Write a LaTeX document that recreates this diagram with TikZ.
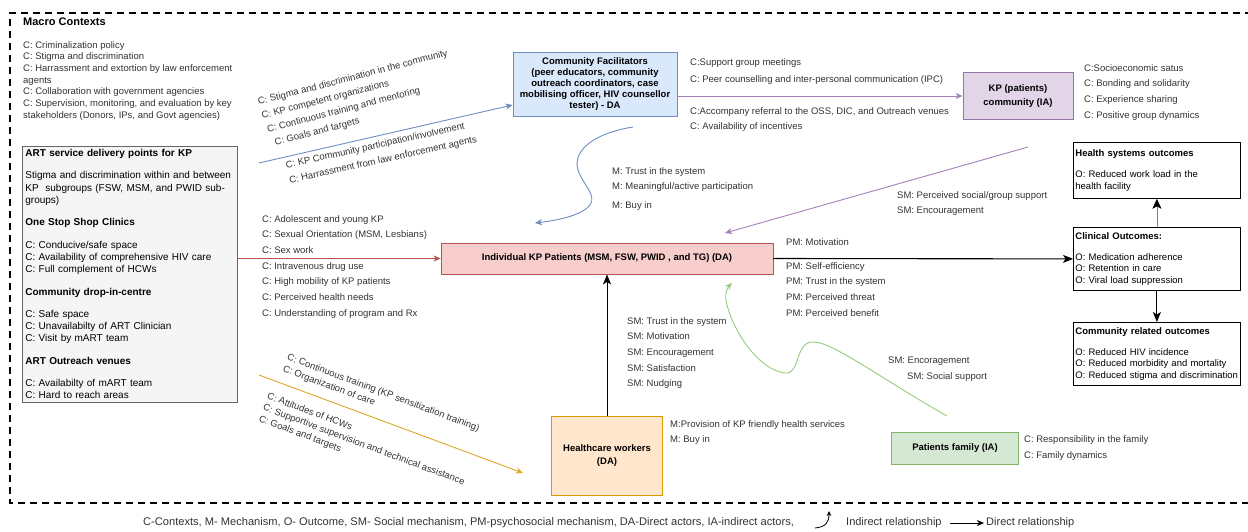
\documentclass[tikz,border=0pt]{standalone}
\usepackage{fontspec}
\setmainfont{Liberation Sans}
\usetikzlibrary{arrows.meta,positioning,calc}

\definecolor{cfblue}{HTML}{DAE8FC}
\definecolor{cfbluedk}{HTML}{6C8EBF}
\definecolor{kpviolet}{HTML}{E1D5E7}
\definecolor{kpvioletdk}{HTML}{9673A6}
\definecolor{kpvioletln}{HTML}{A680B8}
\definecolor{indred}{HTML}{F8CECC}
\definecolor{indreddk}{HTML}{B85450}
\definecolor{hcworange}{HTML}{FFE6CC}
\definecolor{hcworangedk}{HTML}{D79B00}
\definecolor{hcworangeln}{HTML}{E0A526}
\definecolor{famgreen}{HTML}{D5E8D4}
\definecolor{famgreendk}{HTML}{82B366}
\definecolor{famgreenln}{HTML}{97CB7A}
\definecolor{artgray}{HTML}{F5F5F5}
\definecolor{artgraydk}{HTML}{666666}
\definecolor{lbltext}{HTML}{333333}

\tikzset{
	actor/.style={draw, line width=0.8pt, align=center, inner sep=2pt, text=black, font=\bfseries\fontsize{9.5}{11.2}\selectfont},
	outbox/.style={draw, line width=0.8pt, fill=white, anchor=north west, align=left, text width=163pt, minimum width=167pt, inner sep=2pt, font=\fontsize{9.5}{11.7}\selectfont},
	lbl/.style={anchor=north west, align=left, inner sep=0pt, text=lbltext, font=\fontsize{9.5}{15.7}\selectfont},
	conn/.style={line width=0.9pt, -{Stealth[length=7pt,width=6pt,inset=2pt]}},
	direct/.style={line width=1.1pt, -{Stealth[length=10pt,width=8pt,inset=2.5pt]}},
	outerframe/.style={line width=2pt, dash pattern=on 7pt off 5pt}
}

\begin{document}
\begin{tikzpicture}[x=1pt,y=-1pt]
	\useasboundingbox (0,0) rectangle (1248,531);

	% dashed frame of the macro context
	\draw[outerframe] (1252,13) -| (10,503) -- (1252,503);

	\node[lbl, anchor=west, text=black, font=\bfseries\fontsize{11}{13}\selectfont] (macrotitle) at (23,22) {Macro Contexts};
	\node[lbl, font=\fontsize{9.5}{11.7}\selectfont] (macro) at (23,41) {C: Criminalization policy\\C: Stigma and discrimination\\C: Harrassment and extortion by law enforcement\\agents\\C: Collaboration with government agencies\\C: Supervision, monitoring, and evaluation by key\\stakeholders (Donors, IPs, and Govt agencies)};

	% service delivery points
	\node[draw=artgraydk, fill=artgray, line width=0.8pt, anchor=north west, align=left, text width=209pt, minimum height=255pt, inner sep=3pt, font=\fontsize{10}{12.3}\selectfont] (art) at (22,146) {\textbf{ART service delivery points for KP}\\[10pt]
		Stigma and discrimination within and between\\KP\ \ subgroups (FSW, MSM, and PWID sub-\\groups)\\[10pt]
		\textbf{One Stop Shop Clinics}\\[10pt]
		C: Conducive/safe space\\C: Availability of comprehensive HIV care\\C: Full complement of HCWs\\[10pt]
		\textbf{Community drop-in-centre}\\[10pt]
		C: Safe space\\C: Unavailabilty of ART Clinician\\C: Visit by mART team\\[10pt]
		\textbf{ART Outreach venues}\\[10pt]
		C: Availabilty of mART team\\C: Hard to reach areas};

	% actors
	\node[actor, fill=cfblue, draw=cfbluedk, minimum width=164pt, minimum height=64pt] (cf) at (595,84) {Community Facilitators\\(peer educators, community\\outreach coordinators, case\\mobilising officer, HIV counsellor\\tester) - DA};
	\node[actor, fill=kpviolet, draw=kpvioletdk, minimum width=110pt, minimum height=47pt, font=\bfseries\fontsize{9.5}{14}\selectfont] (kpc) at (1018,96) {KP (patients)\\community (IA)};
	\node[actor, fill=indred, draw=indreddk, minimum width=332pt, minimum height=31pt] (ind) at (607,258.5) {Individual KP Patients (MSM, FSW, PWID , and TG) (DA)};
	\node[actor, fill=hcworange, draw=hcworangedk, minimum width=111pt, minimum height=79pt, font=\bfseries\fontsize{9.5}{13}\selectfont] (hcw) at (607,455.5) {Healthcare workers\\(DA)};
	\node[actor, fill=famgreen, draw=famgreendk, minimum width=127pt, minimum height=32pt] (fam) at (955,448) {Patients family (IA)};

	% outcomes
	\node[outbox, minimum height=56pt] (hsys) at (1073,142) {\textbf{Health systems outcomes}\\[9pt]O: Reduced work load in the\\health facility};
	\node[outbox, minimum height=63pt] (clin) at (1073,227) {\textbf{Clinical Outcomes:}\\[9pt]O: Medication adherence\\O: Retention in care\\O: Viral load suppression};
	\node[outbox, minimum height=63pt] (comm) at (1073,322) {\textbf{Community related outcomes}\\[9pt]O: Reduced HIV incidence\\O: Reduced morbidity and mortality\\O: Reduced stigma and discrimination};

	% connectors
	\coordinate (cfin) at (259,163);
	\draw[conn, cfbluedk] (cfin) -- ([yshift=-21pt]cf.west);
	\coordinate (cfout) at (633,127);
	\coordinate (cfend) at (535,223);
	\draw[conn, cfbluedk] (cfout) .. controls (595,133) and (572,150) .. (578,170) .. controls (583,185) and (597,195) .. (590,205) .. controls (582,215) and (560,220) .. (cfend);
	\draw[conn, kpvioletln] (cf.east |- kpc.west) -- (kpc.west);
	\coordinate (kpcout) at (1028,147);
	\coordinate (kpcend) at (725,233);
	\draw[conn, kpvioletln] (kpcout) -- (kpcend);
	\draw[conn, indreddk] (art.east |- ind.west) -- (ind.west);
	\draw[direct] (ind.east) -- (clin.west);
	\draw[direct, line width=0.9pt] (hcw.north) -- (ind.south);
	\coordinate (famout) at (947,416);
	\coordinate (famend) at (732,283);
	\draw[conn, famgreenln] (famout) .. controls (880,378) and (830,340) .. (812,342) .. controls (795,343) and (800,375) .. (785,373) .. controls (760,370) and (735,335) .. (727,305) .. controls (724,295) and (727,288) .. (famend);
	\coordinate (hcwin) at (259,375);
	\coordinate (hcwend) at (523,473);
	\draw[conn, hcworangeln] (hcwin) -- (hcwend);
	\draw[draw=gray, line width=0.6pt, -{Stealth[length=10pt,width=9pt,inset=2.5pt,color=black]}] (clin.north) -- (hsys.south);
	\draw[direct, line width=0.9pt] (clin.south) -- (comm.north);

	% labels
	\node[lbl, rotate=14.5, font=\fontsize{9.5}{14.5}\selectfont] (cfctx1) at (257,98) {C: Stigma and discrimination in the community\\C: KP competent organizations\\\hspace{2pt}C: Continuous training and mentoring\\\hspace{6pt}C: Goals and targets};
	\node[lbl, rotate=12.5, font=\fontsize{9.5}{15.5}\selectfont] (cfctx2) at (285,161.5) {C: KP Community participation/involvement\\C: Harrassment from law enforcement agents};
	\node[lbl] (cfc1) at (690,58) {C:Support group meetings\\[1.3pt]C: Peer counselling and inter-personal communication (IPC)};
	\node[lbl] (cfc2) at (690,107) {C:Accompany referral to the OSS, DIC, and Outreach venues\\C: Availability of incentives};
	\node[lbl] (kpcc) at (1084,64) {C:Socioeconomic satus\\C: Bonding and solidarity\\C: Experience sharing\\C: Positive group dynamics};
	\node[lbl] (kpcm) at (897,191) {SM: Perceived social/group support\\SM: Encouragement};
	\node[lbl] (cfm) at (612,167) {M: Trust in the system\\M: Meaningful/active participation\\[3pt]M: Buy in};
	\node[lbl] (indc) at (262,215) {C: Adolescent and young KP\\C: Sexual Orientation (MSM, Lesbians)\\C: Sex work\\C: Intravenous drug use\\C: High mobility of KP patients\\C: Perceived health needs\\C: Understanding of program and Rx};
	\node[lbl, anchor=west] (pm1) at (786,242) {PM: Motivation};
	\node[lbl] (pm) at (786,262) {PM: Self-efficiency\\PM: Trust in the system\\PM: Perceived threat\\PM: Perceived benefit};
	\node[lbl] (hcwsm) at (627,317) {SM: Trust in the system\\SM: Motivation\\SM: Encouragement\\SM: Satisfaction\\SM: Nudging};
	\node[lbl] (hcwm) at (670,420) {M:Provision of KP friendly health services\\M: Buy in};
	\node[lbl, rotate=-20.5, font=\fontsize{9.5}{12.5}\selectfont] (hcwctx1) at (289,353) {C: Continuous training (KP sensitization training)\\C: Organization of care};
	\node[lbl, rotate=-20.5, font=\fontsize{9.5}{12}\selectfont] (hcwctx2) at (269,392) {C: Attitudes of HCWs\\C: Supportive supervision and technical assistance\\C: Goals and targets};
	\node[lbl, anchor=west] (famsm1) at (888,361) {SM: Encoragement};
	\node[lbl, anchor=west] (famsm2) at (907,377) {SM: Social support};
	\node[lbl] (famc) at (1024,435) {C: Responsibility in the family\\[1pt]C: Family dynamics};

	% legend
	\node[lbl, anchor=west, font=\fontsize{11.1}{13}\selectfont] (legtxt) at (143,523) {C-Contexts, M- Mechanism, O- Outcome, SM- Social mechanism, PM-psychosocial mechanism, DA-Direct actors, IA-indirect actors,};
	\coordinate (indleg0) at (815,528);
	\coordinate (indleg1) at (829,511);
	\draw[line width=0.8pt, -{Stealth[length=5pt,width=4.5pt]}] (indleg0) .. controls (826,527) and (829,522) .. (indleg1);
	\node[lbl, anchor=west, font=\fontsize{11}{13}\selectfont] (legind) at (846,523) {Indirect relationship};
	\node[lbl, anchor=west, font=\fontsize{11}{13}\selectfont] (legdir) at (986,523) {Direct relationship};
	\draw[line width=1pt, -{Stealth[length=7pt,width=6pt,inset=2pt]}] ([xshift=8pt]legind.east) -- ([xshift=-2pt]legdir.west);
\end{tikzpicture}
\end{document}
